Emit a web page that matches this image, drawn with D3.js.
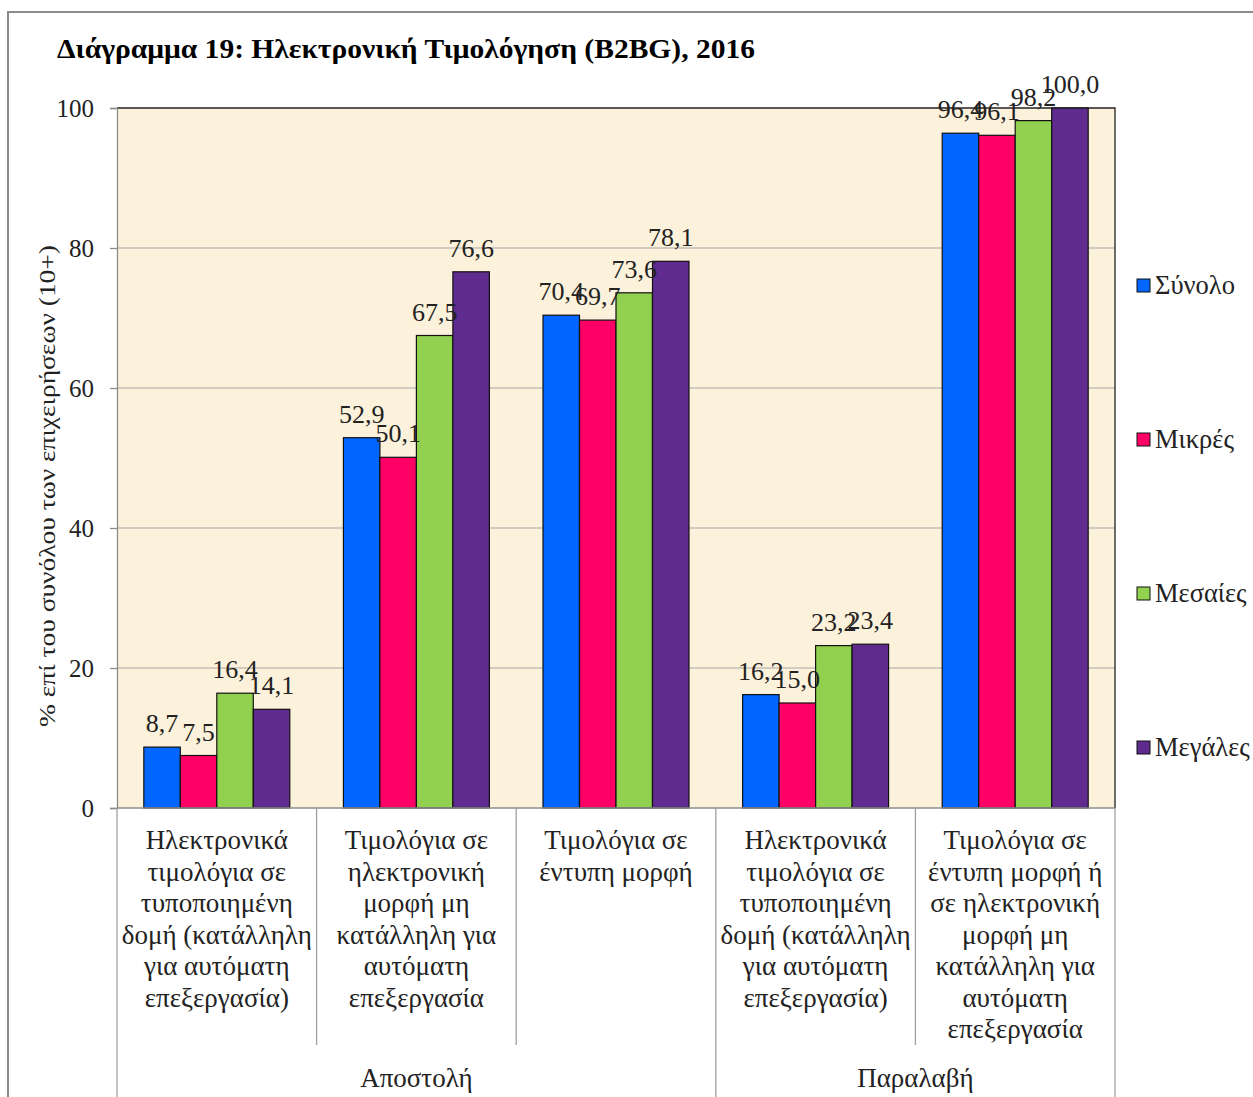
<!DOCTYPE html>
<html>
<head>
<meta charset="utf-8">
<script src="https://cdn.jsdelivr.net/npm/d3@7"></script>
<style>
  body { margin: 0; background: #fff; }
  svg { font-family: "Liberation Serif", "Times New Roman", serif; }
</style>
</head>
<body>
<svg id="chart" width="1253" height="1097"></svg>
<script>
// Data
const categories = ["c1", "c2", "c3", "c4", "c5"];
const categoryLines = [
    ["Ηλεκτρονικά", "τιμολόγια σε", "τυποποιημένη", "δομή (κατάλληλη", "για αυτόματη", "επεξεργασία)"],
    ["Τιμολόγια σε", "ηλεκτρονική", "μορφή μη", "κατάλληλη για", "αυτόματη", "επεξεργασία"],
    ["Τιμολόγια σε", "έντυπη μορφή"],
    ["Ηλεκτρονικά", "τιμολόγια σε", "τυποποιημένη", "δομή (κατάλληλη", "για αυτόματη", "επεξεργασία)"],
    ["Τιμολόγια σε", "έντυπη μορφή ή", "σε ηλεκτρονική", "μορφή μη", "κατάλληλη για", "αυτόματη", "επεξεργασία"]
];
const groupNames = ["Αποστολή", "Παραλαβή"];
const groupSizes = [3, 2];
const seriesNames = ["Σύνολο", "Μικρές", "Μεσαίες", "Μεγάλες"];
const seriesColors = ["#0066ff", "#ff0066", "#92d050", "#602b8f"];
const synolo  = [8.7, 52.9, 70.4, 16.2, 96.4];
const mikres  = [7.5, 50.1, 69.7, 15.0, 96.1];
const mesaies = [16.4, 67.5, 73.6, 23.2, 98.2];
const megales = [14.1, 76.6, 78.1, 23.4, 100.0];
const yTicks = [0, 20, 40, 60, 80, 100];

const seriesValues = [synolo, mikres, mesaies, megales];
const fmt = v => v.toFixed(1).replace(".", ",");

const margin = { top: 108, left: 117 };
const width = 998, height = 700;

const svg = d3.select("#chart");

// outer frame (top and left edges visible)
svg.append("path")
    .attr("d", "M8,1097 V12 H1253")
    .attr("fill", "none")
    .attr("stroke", "#8c8c8c")
    .attr("stroke-width", 2);

svg.append("text")
    .attr("x", 57).attr("y", 58)
    .attr("font-size", 27).attr("font-weight", "bold")
    .attr("textLength", 698).attr("lengthAdjust", "spacingAndGlyphs")
    .text("Διάγραμμα 19: Ηλεκτρονική Τιμολόγηση (B2BG), 2016");

const g = svg.append("g").attr("transform", `translate(${margin.left},${margin.top})`);

const x0 = d3.scaleBand().domain(categories).range([0, width]);
const x1 = d3.scaleBand().domain(seriesNames).range([0, x0.bandwidth()]).paddingOuter(0.735);
const y = d3.scaleLinear().domain([0, 100]).range([height, 0]);

// plot background
g.append("rect")
    .attr("width", width).attr("height", height)
    .attr("fill", "#fcf1db");

// gridlines
g.selectAll(".grid")
    .data(yTicks.filter(t => t > 0 && t < 100))
    .enter().append("line")
    .attr("x1", 0).attr("x2", width)
    .attr("y1", d => y(d)).attr("y2", d => y(d))
    .attr("stroke", "#a6a6a6").attr("stroke-width", 1.2);

// top and right border of the plot
g.append("path")
    .attr("d", `M0,0 H${width} V${height}`)
    .attr("fill", "none").attr("stroke", "#222").attr("stroke-width", 1.3);

// y axis
const yAxis = g.append("g")
    .call(d3.axisLeft(y).tickValues(yTicks).tickSize(7).tickPadding(16).tickFormat(d3.format("d")));
yAxis.select(".domain").attr("stroke", "#8c8c8c").attr("stroke-width", 1.3);
yAxis.selectAll(".tick line").attr("stroke", "#8c8c8c").attr("stroke-width", 1.3);
yAxis.selectAll(".tick text")
    .attr("font-family", "Liberation Serif").attr("font-size", 25).attr("fill", "#222");

svg.append("text")
    .attr("transform", "translate(55,486) rotate(-90)")
    .attr("text-anchor", "middle")
    .attr("font-size", 24).attr("fill", "#222")
    .attr("textLength", 482).attr("lengthAdjust", "spacingAndGlyphs")
    .text("% επί του συνόλου των επιχειρήσεων (10+)");

// bars
const cat = g.selectAll(".cat")
    .data(categories)
    .enter().append("g")
    .attr("transform", d => `translate(${x0(d)},0)`);

cat.selectAll("rect")
    .data((d, i) => seriesNames.map((s, k) => ({ s, k, v: seriesValues[k][i] })))
    .enter().append("rect")
    .attr("x", d => x1(d.s))
    .attr("y", d => y(d.v))
    .attr("width", x1.bandwidth())
    .attr("height", d => height - y(d.v))
    .attr("fill", d => seriesColors[d.k])
    .attr("stroke", "#111").attr("stroke-width", 1.2);

cat.selectAll(".lbl")
    .data((d, i) => seriesNames.map((s, k) => ({ s, k, v: seriesValues[k][i] })))
    .enter().append("text")
    .attr("x", d => x1(d.s) + x1.bandwidth() / 2)
    .attr("y", d => y(d.v) - 15)
    .attr("text-anchor", "middle")
    .attr("font-size", 26).attr("fill", "#222")
    .text(d => fmt(d.v));

// x axis line
g.append("line")
    .attr("x1", 0).attr("x2", width)
    .attr("y1", height).attr("y2", height)
    .attr("stroke", "#8c8c8c").attr("stroke-width", 1.3);

// category separators
const bounds = categories.map(c => x0(c)).concat([width]);
const groupEdges = [0];
groupSizes.forEach(n => groupEdges.push(groupEdges[groupEdges.length - 1] + n));
g.selectAll(".sep")
    .data(bounds)
    .enter().append("line")
    .attr("x1", d => d).attr("x2", d => d)
    .attr("y1", height)
    .attr("y2", (d, i) => groupEdges.includes(i) ? 989 : 937)
    .attr("stroke", "#a0a0a0").attr("stroke-width", 1.3);

// category labels
g.selectAll(".catlbl")
    .data(categories)
    .enter().append("text")
    .attr("text-anchor", "middle")
    .attr("font-size", 27).attr("fill", "#222")
    .each(function (d, i) {
        d3.select(this).selectAll("tspan")
            .data(categoryLines[i])
            .enter().append("tspan")
            .attr("x", x0(d) + x0.bandwidth() / 2)
            .attr("y", (l, j) => 741 + j * 31.5)
            .text(l => l);
    });

// group labels
let start = 0;
groupNames.forEach((name, i) => {
    const a = x0(categories[start]);
    const b = start + groupSizes[i] < categories.length ? x0(categories[start + groupSizes[i]]) : width;
    g.append("text")
        .attr("x", (a + b) / 2).attr("y", 979)
        .attr("text-anchor", "middle")
        .attr("font-size", 27).attr("fill", "#222")
        .text(name);
    start += groupSizes[i];
});

// legend
const legend = svg.append("g").attr("transform", "translate(1137,0)");
seriesNames.forEach((s, k) => {
    const ly = 286 + k * 154;
    legend.append("rect")
        .attr("x", 0).attr("y", ly - 7)
        .attr("width", 13).attr("height", 13)
        .attr("fill", seriesColors[k]).attr("stroke", "#111").attr("stroke-width", 1);
    legend.append("text")
        .attr("x", 18).attr("y", ly + 8)
        .attr("font-size", 26.5).attr("fill", "#222")
        .text(s);
});
</script>
</body>
</html>
